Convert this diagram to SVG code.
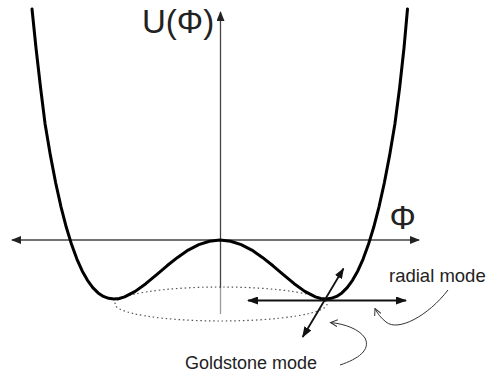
<svg xmlns="http://www.w3.org/2000/svg" width="488" height="372" viewBox="0 0 488 372">
<style>
.axis{stroke:#444;stroke-width:1.3;fill:none}
.curve{stroke:#000;stroke-width:3;fill:none;stroke-linejoin:round;stroke-linecap:round}
.mode{stroke:#111;stroke-width:1.8;fill:none}
.ptr{stroke:#333;stroke-width:1;fill:none}
.lbl{font-family:"Liberation Sans",Arial,sans-serif;fill:#222}
</style>
<defs>
<marker id="ah" viewBox="0 0 10 8" refX="9" refY="4" markerWidth="10" markerHeight="8" markerUnits="userSpaceOnUse" orient="auto-start-reverse">
<path d="M0,0 L10,4 L0,8 Z" fill="#222"/>
</marker>
<marker id="mh" viewBox="0 0 11 8" refX="10" refY="4" markerWidth="11" markerHeight="8" markerUnits="userSpaceOnUse" orient="auto-start-reverse">
<path d="M0,0 L11,4 L0,8 Z" fill="#111"/>
</marker>
<marker id="oh" viewBox="0 0 8 8" refX="7" refY="4" markerWidth="8" markerHeight="8" markerUnits="userSpaceOnUse" orient="auto">
<path d="M0,0.5 L7,4 L0,7.5" fill="none" stroke="#333" stroke-width="1"/>
</marker>
</defs>
<g id="axes">
<line class="axis" x1="12" y1="240" x2="419" y2="240" marker-start="url(#ah)" marker-end="url(#ah)"/>
<line class="axis" x1="220.5" y1="288" x2="220.5" y2="12" marker-end="url(#ah)"/>
<line x1="220.5" y1="288" x2="220.5" y2="314" stroke="#999" stroke-width="1.3"/>
</g>
<g id="ellipse">
<ellipse cx="221" cy="304" rx="106" ry="17" fill="none" stroke="#555" stroke-width="1.2" stroke-dasharray="1.5,2.8"/>
</g>
<g id="potential">
<polyline class="curve" points="32,9 36,48 40.6,88 45.1,124 50.4,155.4 55.7,183 61,206.8 66.3,227.3 71.6,244.6 76.9,259.1 82.2,270.9 87.5,280.3 92.8,287.6 98.1,292.9 103.4,296.4 108.7,298.3 114,299 119.3,298.5 124.6,296.9 135.2,291.4 145.8,283.7 156.4,274.8 167,265.8 177.6,257.4 188.2,250.1 198.8,244.6 209.4,241.2 220,240 230.6,241.2 241.2,244.6 251.8,250.1 262.4,257.4 273,265.8 283.6,274.8 294.2,283.7 304.8,291.4 315.4,296.9 320.7,298.5 326,299 331.3,298.3 336.6,296.4 341.9,292.9 347.2,287.6 352.5,280.3 357.8,270.9 363.1,259.1 368.4,244.6 373.7,227.3 379,206.8 384.3,183 389.6,155.4 394.9,124 399.6,88 404,48 407.5,9"/>
</g>
<g id="connectors">
<line class="mode" x1="248" y1="300.5" x2="406" y2="300.5" marker-start="url(#mh)" marker-end="url(#mh)"/>
<line class="mode" x1="343.5" y1="268.5" x2="302.7" y2="337" marker-start="url(#mh)" marker-end="url(#mh)"/>
<path class="ptr" d="M448,290 C428,316 398,332 386,322 C381,318 377,313 375,308.5" marker-end="url(#oh)"/>
<path class="ptr" d="M340,365 C358,359 371,350 365,338 C359,329 345,324 330.5,322.5" marker-end="url(#oh)"/>
</g>
<g id="labels">
<text class="lbl" x="142" y="33" font-size="33">U(Φ)</text>
<text class="lbl" x="389.5" y="229" font-size="33">Φ</text>
<text class="lbl" x="389" y="282" font-size="18.5">radial mode</text>
<text class="lbl" x="185" y="369" font-size="18">Goldstone mode</text>
</g>
</svg>
